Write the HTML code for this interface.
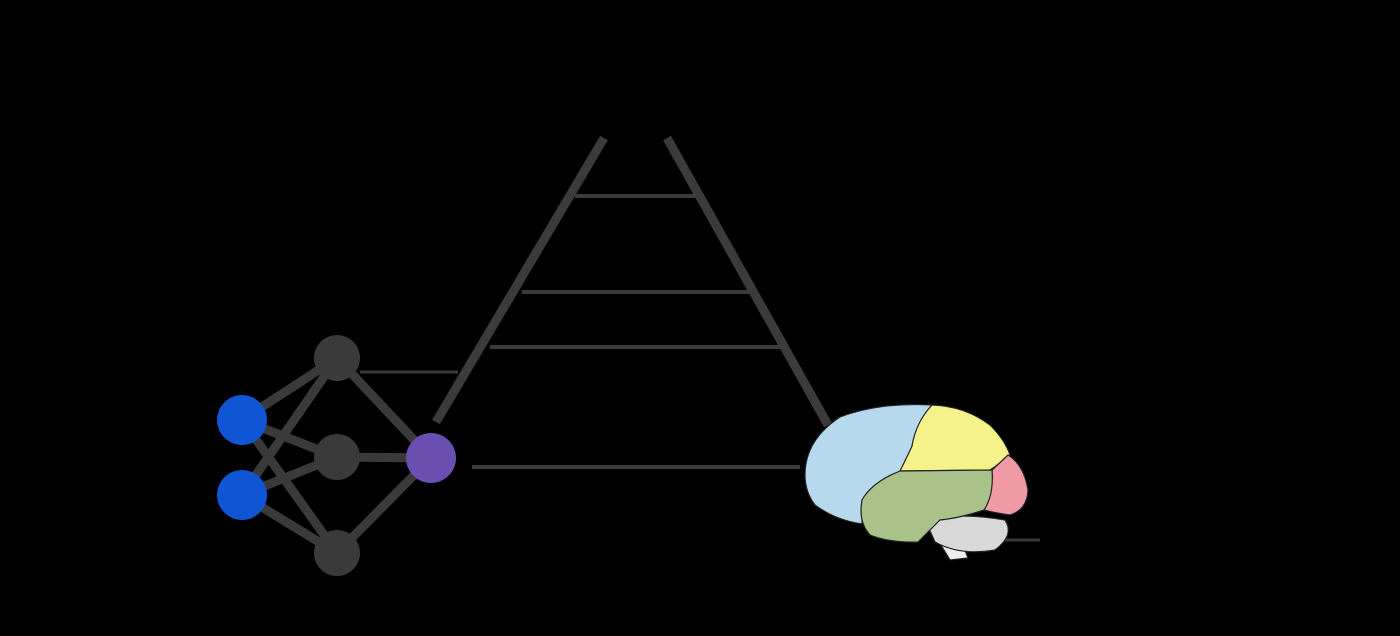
<!DOCTYPE html>
<html><head><meta charset="utf-8"><style>
html,body{margin:0;padding:0;background:#000;width:1400px;height:636px;overflow:hidden}
svg{display:block}
</style></head><body>
<svg width="1400" height="636" viewBox="0 0 1400 636">
<rect width="1400" height="636" fill="#000"/>
<g stroke="#3b3b3b" stroke-linecap="butt" fill="none">
  <line x1="604" y1="138" x2="436" y2="422" stroke-width="9"/>
  <line x1="667" y1="138" x2="828" y2="425" stroke-width="9"/>
  <line x1="575" y1="196" x2="696" y2="196" stroke-width="4"/>
  <line x1="522" y1="292" x2="752" y2="292" stroke-width="4"/>
  <line x1="490" y1="347" x2="782" y2="347" stroke-width="4"/>
  <line x1="360" y1="372" x2="458" y2="372" stroke-width="3"/>
  <line x1="472" y1="467" x2="800" y2="467" stroke-width="4"/>
  <line x1="990" y1="540" x2="1040" y2="540" stroke-width="3"/>
</g>
<g stroke="#3a3a3a" stroke-width="9">
  <line x1="242" y1="420" x2="337" y2="358"/><line x1="242" y1="420" x2="337" y2="457"/><line x1="242" y1="420" x2="337" y2="553"/>
  <line x1="242" y1="495" x2="337" y2="358"/><line x1="242" y1="495" x2="337" y2="457"/><line x1="242" y1="495" x2="337" y2="553"/>
  <line x1="337" y1="358" x2="431" y2="458"/><line x1="337" y1="457" x2="431" y2="458"/><line x1="337" y1="553" x2="431" y2="458"/>
</g>
<circle cx="337" cy="358" r="23" fill="#3a3a3a"/>
<circle cx="337" cy="457" r="23" fill="#3a3a3a"/>
<circle cx="337" cy="553" r="23" fill="#3a3a3a"/>
<circle cx="242" cy="420" r="25" fill="#0f55d4"/>
<circle cx="242" cy="495" r="25" fill="#0f55d4"/>
<circle cx="431" cy="458" r="25" fill="#6a4fb0"/>
<g stroke="#222" stroke-width="1.2">
  <path d="M945,525 L958,532 L968,558 L950,560 L938,540 Z" fill="#eee"/>
  <path d="M925,520 Q960,512 1005,520 Q1015,535 995,550 Q960,556 935,542 Z" fill="#d8d8d8"/>
  <path d="M805,475 Q805,440 840,417 Q880,402 932,405 Q915,425 912,448 Q905,465 900,473 Q870,488 862,500 L862,524 Q835,520 815,505 Q805,492 805,475 Z" fill="#b7d9ee"/>
  <path d="M932,405 Q965,406 990,425 Q1005,440 1010,455 L996,466 L990,470 L900,471 Q908,455 912,446 Q916,422 932,405 Z" fill="#f6f28a"/>
  <path d="M1008,455 Q1024,465 1028,490 Q1027,510 1010,515 Q995,513 984,510 Q993,495 992,470 Z" fill="#ef9aa5"/>
  <path d="M900,471 L992,470 Q994,495 984,510 Q960,518 940,520 Q925,535 918,542 Q890,543 870,535 Q858,522 862,500 Q872,482 900,471 Z" fill="#a9c28a"/>
</g>
</svg>
</body></html>
